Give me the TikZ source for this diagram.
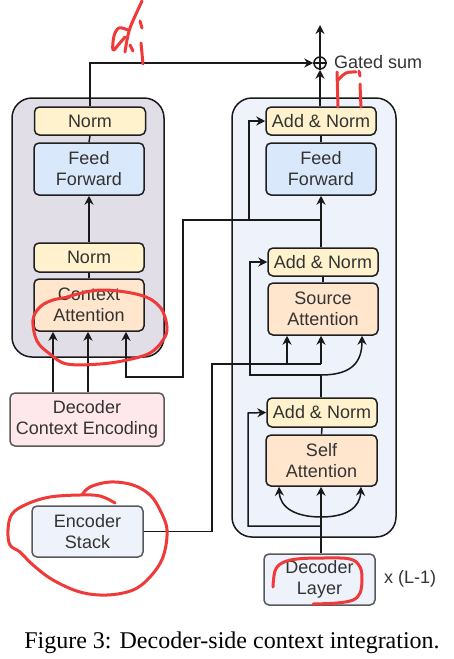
\documentclass[tikz,border=0pt]{standalone}
\usepackage{fontspec}
\setmainfont{Liberation Sans}
\newfontfamily\capfont{Liberation Serif}
\usetikzlibrary{arrows.meta}
\definecolor{txt}{HTML}{333333}
\definecolor{lcontfill}{HTML}{E1DEE8}
\definecolor{rcontfill}{HTML}{EEF2FB}
\definecolor{normfill}{HTML}{FFF2CC}
\definecolor{fffill}{HTML}{DAE8FC}
\definecolor{attfill}{HTML}{FFE6CC}
\definecolor{dcefill}{HTML}{FFE8EB}
\definecolor{encfill}{HTML}{EEF2FB}
\definecolor{pen}{HTML}{F03A3A}
\tikzset{
  container/.style={draw=black!90, line width=1.5pt, rounded corners=20pt},
  blk/.style={draw=black!88, line width=1.5pt, rounded corners=5pt, inner sep=0pt,
    align=center, text=txt, font=\fontsize{18}{21}\selectfont},
  grayblk/.style={blk, draw=black!65},
  wire/.style={line width=1.5pt, black!90},
  arr/.style={wire, -{Stealth[length=9pt,width=9pt,inset=3pt]}},
  redpen/.style={draw=pen, line width=3pt, line cap=round, line join=round},
  lbl/.style={text=txt, font=\fontsize{18}{21}\selectfont, inner sep=0pt}
}
\begin{document}
\begin{tikzpicture}[x=1pt,y=-1pt]
\useasboundingbox[fill=white] (0,0) rectangle (453,659);
% containers
\draw[container, fill=lcontfill] (12,98) rectangle (164,357);
\draw[container, fill=rcontfill] (232,98) rectangle (396,537);
% left column
\node[blk, fill=normfill, minimum width=111pt, minimum height=28pt] (lnorm1) at (90,121) {Norm};
\node[blk, fill=fffill, minimum width=110pt, minimum height=52pt] (lff) at (89,169) {Feed\\Forward};
\node[blk, fill=normfill, minimum width=110pt, minimum height=29pt] (lnorm2) at (89,257.5) {Norm};
\node[blk, fill=attfill, minimum width=110pt, minimum height=52pt] (ctx) at (89,305) {Context\\Attention};
\node[grayblk, fill=dcefill, minimum width=154pt, minimum height=53pt] (dce) at (87,419.5) {Decoder\\Context Encoding};
\node[grayblk, fill=encfill, minimum width=111pt, minimum height=51pt] (enc) at (87.5,531.5) {Encoder\\Stack};
% right column
\node[blk, fill=normfill, minimum width=110pt, minimum height=28pt] (rnorm1) at (321,121) {Add \& Norm};
\node[blk, fill=fffill, minimum width=110pt, minimum height=52pt] (rff) at (321,169) {Feed\\Forward};
\node[blk, fill=normfill, minimum width=110pt, minimum height=28pt] (rnorm2) at (323,262) {Add \& Norm};
\node[blk, fill=attfill, minimum width=110pt, minimum height=52pt] (src) at (323,309) {Source\\Attention};
\node[blk, fill=normfill, minimum width=110pt, minimum height=29pt] (rnorm3) at (322,412.5) {Add \& Norm};
\node[blk, fill=attfill, minimum width=111pt, minimum height=51pt] (self) at (321.5,460.5) {Self\\Attention};
\node[grayblk, fill=encfill, minimum width=111pt, minimum height=51pt] (dec) at (319.5,579.5) {Decoder\\Layer};
% gated sum
\node[circle, draw=black!90, line width=1.5pt, minimum size=12pt, inner sep=0pt] (op) at (320,63) {};
\draw[wire, line width=1.3pt] (op.north) -- (op.south) (op.west) -- (op.east);
\node[lbl, anchor=west] (gs) at (334,62) {Gated sum};
\node[lbl, anchor=west] (rep) at (384,579) {x (L-1)};
\coordinate (out) at (320,25);
% left wiring
\draw[arr] (lnorm1.north) |- (op.west);
\draw[wire] (lff.north) -- (lnorm1.south);
\draw[arr] (lnorm2.north) -- (lff.south);
\draw[wire] (ctx.north) -- (lnorm2.south);
\draw[arr] (dce.north -| 53,0) -- (ctx.south -| 53,0);
\draw[arr] (dce.north -| 88,0) -- (ctx.south -| 88,0);
% right top
\draw[arr] (op.north) -- (out);
\draw[arr] (rnorm1.north -| op) -- (op.south);
\draw[wire] (rff.north) -- (rnorm1.south);
\coordinate (j1) at (321,220);
\draw[arr] (rnorm2.north -| j1) -- (j1) -- (rff.south);
\draw[arr] (j1) -- (183,220) -- (183,377) -- (126,377) -- (ctx.south -| 126,0);
\draw[arr] (249,220) -- (249,121) -- (rnorm1.west);
% source attention block
\draw[wire] (src.north) -- (rnorm2.south);
\coordinate (j2) at (321,375);
\draw[wire] (rnorm3.north -| j2) -- (j2);
\draw[arr] (j2) .. controls (352,375) and (362,362) .. (src.south -| 362,0);
\draw[arr] (j2) -- (250,375) -- (250,262) -- (rnorm2.west);
\coordinate (j3) at (212,364);
\draw[wire] (enc.east) -| (j3) -- (321,364);
\draw[arr] (287,364) -- (src.south -| 287,0);
\draw[arr] (321,364) -- (src.south -| 321,0);
% self attention block
\draw[wire] (self.north) -- (rnorm3.south);
\coordinate (j4) at (321,517);
\draw[arr] (dec.north -| j4) -- (self.south -| j4);
\draw[arr] (j4) .. controls (296,517) and (280,508) .. (self.south -| 279,0);
\draw[arr] (j4) .. controls (346,517) and (360,508) .. (self.south -| 361,0);
\draw[arr] (321,526) -- (248,526) -- (248,413) -- (rnorm3.west);
% caption
\node[anchor=base, font=\capfont\fontsize{24}{26}\selectfont, inner sep=0pt] (cap) at (232,648) {Figure 3: Decoder-side context integration.};
% red pen annotations
\draw[redpen] plot[smooth, tension=0.6] coordinates {(142,1) (136,14) (130,28) (127,40) (125,52)};
\draw[redpen] plot[smooth, tension=0.6] coordinates {(128,30) (119,28) (114,36) (113,50) (119,44) (125,37)};
\draw[redpen] (130,45) -- (133,51);
\draw[redpen] (140,21) -- (142,28);
\draw[redpen] (141,43) -- (143,64);
\draw[redpen] (337,72) -- (338,107);
\draw[redpen] plot[smooth, tension=0.6] coordinates {(338,80) (346,73) (356,72)};
\draw[redpen] (359,71) -- (360,76);
\draw[redpen] (360,84) -- (361,107);
\draw[redpen] plot[smooth, tension=0.6] coordinates {(67,297) (100,290) (140,295) (160,307) (167,327) (163,340) (150,353) (127,360) (100,364) (67,364) (50,354) (37,341) (33,320) (40,307) (53,300) (70,297)};
\draw[redpen] plot[smooth, tension=0.6] coordinates {(115,503) (100,496) (80,495) (50,497) (27,504) (12,514) (8,530) (10,545) (20,552) (33,565) (53,580) (80,592) (107,595) (133,590) (150,577) (163,557) (167,530) (160,510) (150,495) (133,485) (110,482) (90,487) (82,495)};
\draw[redpen] plot[smooth, tension=0.6] coordinates {(273,587) (275,571) (282,563) (297,559) (323,558) (350,559) (360,567) (362,580) (360,593) (353,600) (337,603) (313,604)};
\end{tikzpicture}
\end{document}
